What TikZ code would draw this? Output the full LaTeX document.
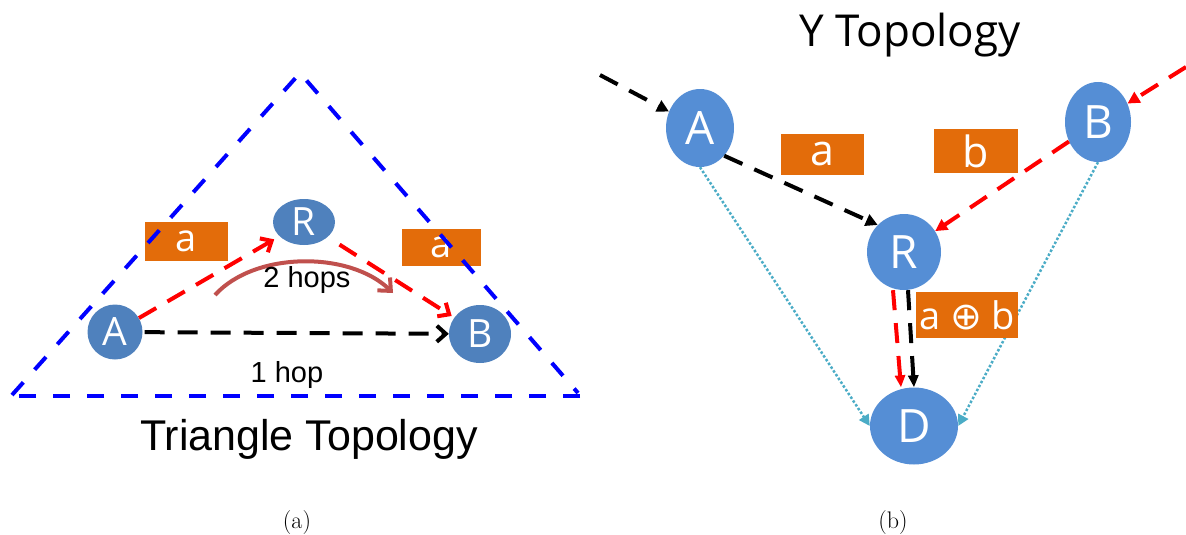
\documentclass[tikz,border=0pt]{standalone}
\usepackage{fontspec}
\usepackage{tikz}
\usetikzlibrary{arrows.meta,shapes.geometric}
\newfontfamily\arialfont{Liberation Sans}
\newfontfamily\segoefont{Open Sans}
\newfontfamily\symbolfont{DejaVu Sans}
\definecolor{nodeblue}{RGB}{79,129,189}
\definecolor{nodebluey}{RGB}{85,142,213}
\definecolor{boxorange}{RGB}{227,108,10}
\definecolor{dotteal}{RGB}{75,172,198}
\definecolor{arcred}{RGB}{192,80,77}

\begin{document}
\begin{tikzpicture}[x=1pt,y=-1pt,
  tnode/.style={shape=ellipse,fill=nodeblue,text=white,inner sep=0pt,font={\segoefont\fontsize{39}{39}\selectfont}},
  ynode/.style={shape=ellipse,fill=nodebluey,text=white,inner sep=0pt,font={\segoefont\fontsize{46}{46}\selectfont}},
  pkt/.style={fill=boxorange,text=white,inner sep=0pt},
  tlink/.style={line width=4pt,dash pattern=on 20pt off 13pt,-{Straight Barb[length=9pt,width=16pt,line width=4pt]}},
  ylink/.style={line width=4pt,dash pattern=on 20pt off 13pt,-{Triangle[length=12pt,width=12pt]}},
  ydot/.style={dotteal,line width=2.5pt,dash pattern=on 2.5pt off 2pt,-{Triangle[length=11pt,width=11pt]}}]
\useasboundingbox (0,0) rectangle (1186,535);

% triangle topology
\node[pkt,minimum width=83,minimum height=39,font={\segoefont\fontsize{38}{38}\selectfont}] (ta1) at (186,241) {a};
\node[pkt,minimum width=79,minimum height=37,font={\segoefont\fontsize{38}{38}\selectfont}] (ta2) at (441,247) {a};
\draw[blue,line width=4pt,dash pattern=on 17pt off 17pt] (12,395) -- (300,73) -- (578,393);
\draw[blue,line width=4pt,dash pattern=on 17pt off 17pt] (580,396) -- (10,396);

\node[tnode,minimum width=55,minimum height=55] (TA) at (115,332) {A};
\node[tnode,minimum width=62,minimum height=46] (TR) at (304,222) {R};
\node[tnode,minimum width=62,minimum height=58] (TB) at (480,334) {B};

\draw[tlink,red,shorten >=6pt] (TA) -- (TR);
\draw[tlink,red,shorten <=14pt,shorten >=3pt] (TR) -- (TB);
\draw[tlink,black,shorten <=2pt] (TA) -- (TB);

\coordinate (h1) at (215,295);
\coordinate (h2) at (393,293);
\draw[arcred,line width=4pt,-{Straight Barb[length=10pt,width=18pt,line width=4pt]}] (h1) .. controls (255,251) and (350,251) .. (h2);

\node[font={\arialfont\fontsize{29}{29}\selectfont},anchor=base] (two) at (307,287) {2 hops};
\node[font={\arialfont\fontsize{29}{29}\selectfont},anchor=base] (one) at (287,382) {1 hop};
\node[font={\arialfont\fontsize{43}{43}\selectfont},anchor=base] (ttitle) at (309,450) {Triangle Topology};
\node[font=\fontsize{24}{24}\selectfont,anchor=base] (capa) at (297,528) {(a)};

% Y topology
\node[font={\segoefont\fontsize{44}{44}\selectfont},anchor=base] (ytitle) at (910,47) {Y Topology};

\node[ynode,minimum width=68,minimum height=78] (YA) at (700,128) {A};
\node[ynode,minimum width=66,minimum height=80] (YB) at (1098,122) {B};
\node[ynode,minimum width=74,minimum height=76] (YR) at (904,252) {R};
\node[ynode,minimum width=88,minimum height=77] (YD) at (914,426) {D};

\coordinate (ain) at (600,75);
\coordinate (bin) at (1186,67);

\draw[ydot] (YA.south) -- (YD.west);
\draw[ydot] (YB.south) -- (YD.east);

\draw[ylink,black] (ain) -- (YA);
\draw[ylink,black] (YA.south east) -- (YR.north west);
\draw[ylink,red] (bin) -- (YB);
\draw[ylink,red] (YB) -- (YR);
\draw[ylink,red,-{Triangle[length=12pt,width=10pt]}] ([xshift=-11pt]YR.south) -- ([xshift=-13pt]YD.north);
\draw[ylink,black,-{Triangle[length=12pt,width=10pt]}] ([xshift=4pt]YR.south) -- ([xshift=0pt]YD.north);

\node[pkt,minimum width=83,minimum height=41,font={\segoefont\fontsize{43}{43}\selectfont}] (ya) at (822,154) {a};
\node[pkt,minimum width=84,minimum height=44,font={\segoefont\fontsize{43}{43}\selectfont}] (yb) at (976,151) {b};
\node[pkt,minimum width=102,minimum height=46,font={\segoefont\fontsize{38}{38}\selectfont}] (yab) at (967,315) {a {\symbolfont ⊕} b};

\node[font=\fontsize{24}{24}\selectfont,anchor=base] (capb) at (893,528) {(b)};
\end{tikzpicture}
\end{document}
